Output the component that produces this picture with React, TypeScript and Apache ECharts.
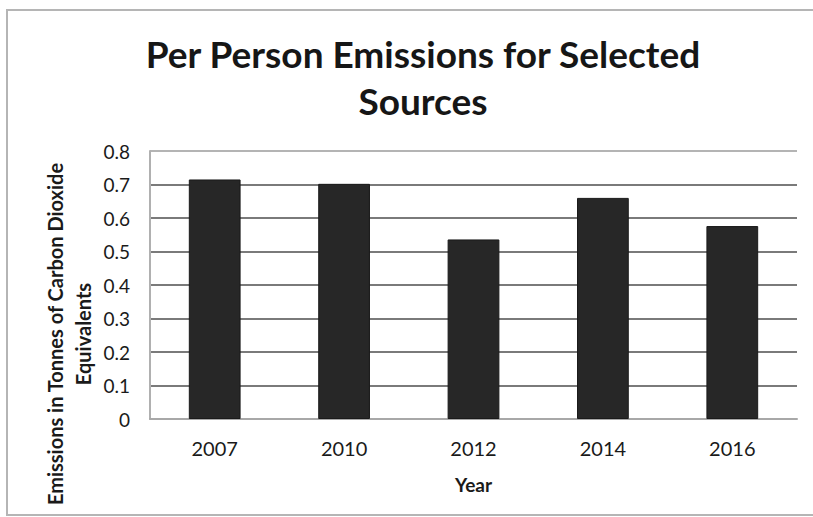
import React, { useEffect, useRef } from "react";
import * as echarts from "echarts";

const years = ["2007", "2010", "2012", "2014", "2016"];
const emissions = [0.715, 0.702, 0.536, 0.66, 0.576];
const yTicks = { min: 0, max: 0.8, interval: 0.1 };
const yAxisTitle = "Emissions in Tonnes of Carbon Dioxide\nEquivalents";

const FONT = "Lato, 'Open Sans', sans-serif";

export default function App() {
  const ref = useRef<HTMLDivElement>(null);

  useEffect(() => {
    if (!ref.current) return;
    const chart = echarts.init(ref.current, undefined, { renderer: "svg" });
    // gridlines from 0 up to 0.8; the topmost one is lighter
    const gridColors = ["#7a7a7a", "#7a7a7a", "#7a7a7a", "#7a7a7a", "#7a7a7a", "#7a7a7a", "#7a7a7a", "#7a7a7a", "#b4b4b4"];
    chart.setOption({
      animation: false,
      backgroundColor: "#ffffff",
      title: {
        text: "Per Person Emissions for Selected\nSources",
        left: 418,
        top: 25,
        textAlign: "center",
        textStyle: {
          fontFamily: FONT,
          fontWeight: "bold",
          fontSize: 37,
          lineHeight: 47,
          color: "#161616",
        },
      },
      graphic: [
        {
          type: "rect",
          shape: { x: 7, y: 10, width: 830, height: 505 },
          style: { fill: "none", stroke: "#b5b5b5", lineWidth: 2 },
          silent: true,
        },
        {
          type: "text",
          x: 69,
          y: 334,
          rotation: Math.PI / 2,
          style: {
            text: yAxisTitle,
            textAlign: "center",
            textVerticalAlign: "middle",
            fontFamily: FONT,
            fontWeight: "bold",
            fontSize: 20,
            lineHeight: 28,
            fill: "#1a1a1a",
          },
          silent: true,
        },
      ],
      grid: { left: 150, right: 16, top: 151, bottom: 98 },
      xAxis: {
        type: "category",
        data: years,
        axisLine: { show: true, lineStyle: { color: "#a8a8a8", width: 2 } },
        axisTick: { show: false },
        axisLabel: {
          fontFamily: FONT,
          fontSize: 20,
          color: "#1a1a1a",
          margin: 19,
        },
        name: "Year",
        nameLocation: "middle",
        nameGap: 56,
        nameTextStyle: {
          fontFamily: FONT,
          fontWeight: "bold",
          fontSize: 19,
          color: "#1a1a1a",
        },
      },
      yAxis: {
        type: "value",
        min: yTicks.min,
        max: yTicks.max,
        interval: yTicks.interval,
        axisLine: { show: true, lineStyle: { color: "#b0b0b0", width: 2 } },
        axisTick: { show: false },
        splitLine: { lineStyle: { color: gridColors, width: 2 } },
        axisLabel: {
          fontFamily: FONT,
          fontSize: 19,
          color: "#1a1a1a",
          margin: 20,
          formatter: (v: number) => (v === 0 ? "0" : v.toFixed(1)),
        },
      },
      series: [
        {
          type: "bar",
          data: emissions,
          barWidth: "40%",
          itemStyle: { color: "#272727", borderColor: "#1a1a1a", borderWidth: 1 },
        },
      ],
    });
    return () => chart.dispose();
  }, []);

  return (
    <div
      ref={ref}
      style={{ position: "fixed", left: 0, top: 0, width: 813, height: 517 }}
    />
  );
}
